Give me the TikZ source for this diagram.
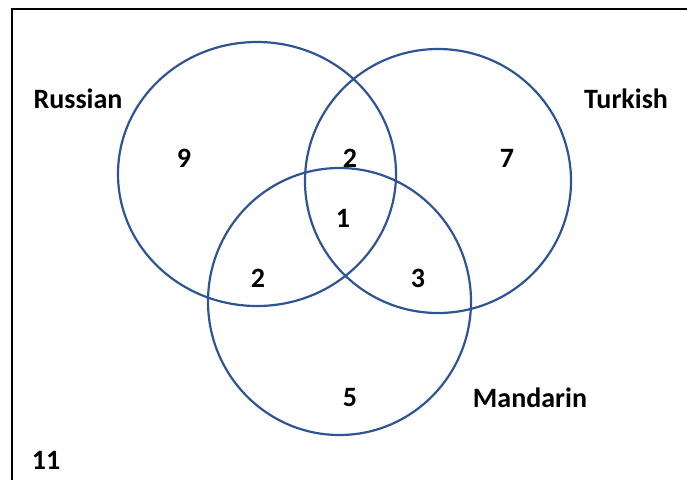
\documentclass[tikz,border=0pt]{standalone}
\usepackage{fontspec}
\setmainfont{Carlito}
\usetikzlibrary{positioning}
\definecolor{setblue}{HTML}{2F5496}

\begin{document}
\begin{tikzpicture}[x=1pt,y=-1pt,
  setline/.style={draw=setblue,line width=2.2pt},
  lbl/.style={font=\bfseries\fontsize{28}{32}\selectfont,inner sep=0pt}]
\useasboundingbox (0,0) rectangle (687,480);
\draw[line width=2pt] (11.5,480) -- (11.5,8.5) -- (687,8.5);
\draw[setline] (257,174) ellipse (139 and 132);
\draw[setline] (438,181) ellipse (133 and 132);
\draw[setline] (339.5,301.5) ellipse (131.5 and 133.5);
\node[lbl] (russian) at (78,99) {Russian};
\node[lbl] (turkish) at (626,99) {Turkish};
\node[lbl] (mandarin) at (530,398) {Mandarin};
\node[lbl] (none) at (46,460) {11};
\node[lbl] (r) at (184,158) {9};
\node[lbl] (rt) at (350,158) {2};
\node[lbl] (t) at (507,158) {7};
\node[lbl] (rtm) at (343,218) {1};
\node[lbl] (rm) at (258,278) {2};
\node[lbl] (tm) at (418,278) {3};
\node[lbl] (m) at (350,398) {5};
\end{tikzpicture}
\end{document}
